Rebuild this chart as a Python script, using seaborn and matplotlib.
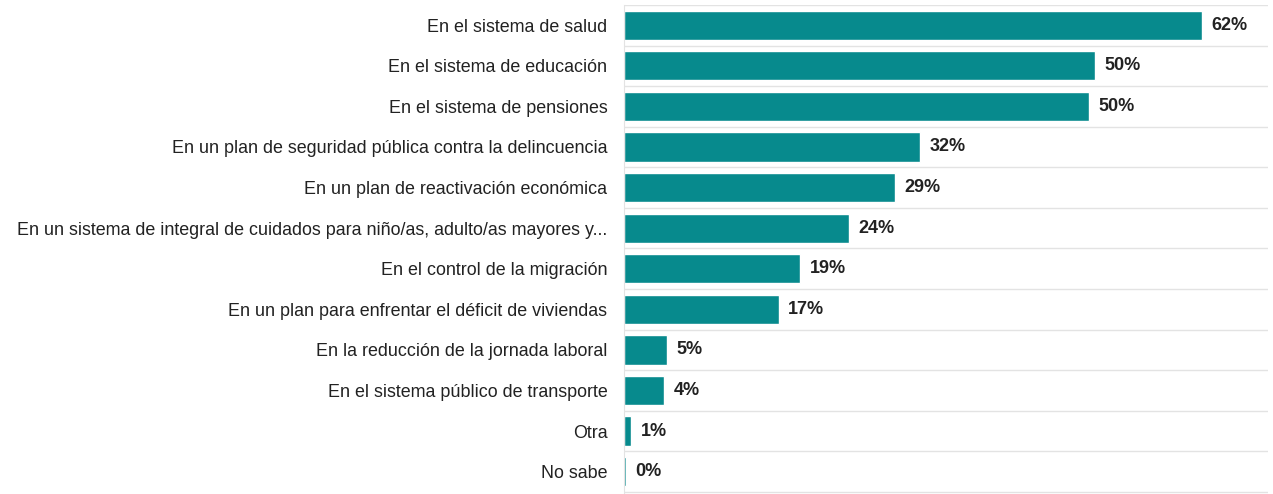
import pandas as pd
import matplotlib.pyplot as plt
import seaborn as sns

categories = [
    "En el sistema de salud",
    "En el sistema de educación",
    "En el sistema de pensiones",
    "En un plan de seguridad pública contra la delincuencia",
    "En un plan de reactivación económica",
    "En un sistema de integral de cuidados para niño/as, adulto/as mayores y...",
    "En el control de la migración",
    "En un plan para enfrentar el déficit de viviendas",
    "En la reducción de la jornada laboral",
    "En el sistema público de transporte",
    "Otra",
    "No sabe",
]
values = [62.0, 50.5, 49.9, 31.8, 29.1, 24.1, 18.9, 16.6, 4.6, 4.3, 0.8, 0.25]
value_labels = ["62%", "50%", "50%", "32%", "29%", "24%", "19%", "17%", "5%", "4%", "1%", "0%"]

df = pd.DataFrame({"cat": categories, "val": values})

sns.set_style("white")
plt.rcParams["font.family"] = ["Liberation Sans", "DejaVu Sans"]

fig = plt.figure(figsize=(12.73, 4.94), dpi=100)
ax = fig.add_axes([624 / 1273, 0.0, (1268 - 624) / 1273, 0.99])

sns.barplot(data=df, x="val", y="cat", color="#078a8d", width=0.72,
            saturation=1, ax=ax)

ax.set_xlim(0, 69.1)
ax.set_ylim(len(categories) - 0.5 + 0.05, -0.5 + 0.05)
ax.set_xlabel("")
ax.set_ylabel("")
ax.set_xticks([])
ax.tick_params(axis="y", length=0, pad=12, labelsize=12.9, labelcolor="#222222")

# light separators between rows
ax.set_yticks([i + 0.5 for i in range(-1, len(categories))], minor=True)
ax.tick_params(axis="y", which="minor", length=0)
ax.grid(axis="y", which="minor", color="#e3e3e3", linewidth=1)
ax.grid(axis="y", which="major", visible=False)

for s in ["top", "right", "bottom"]:
    ax.spines[s].set_visible(False)
ax.spines["left"].set_color("#e3e3e3")

for i, (v, lab) in enumerate(zip(values, value_labels)):
    ax.text(v + 1.0, i, lab, va="center", ha="left", fontsize=13,
            fontweight="bold", color="#222222")

fig.savefig("out.png", dpi=100)
